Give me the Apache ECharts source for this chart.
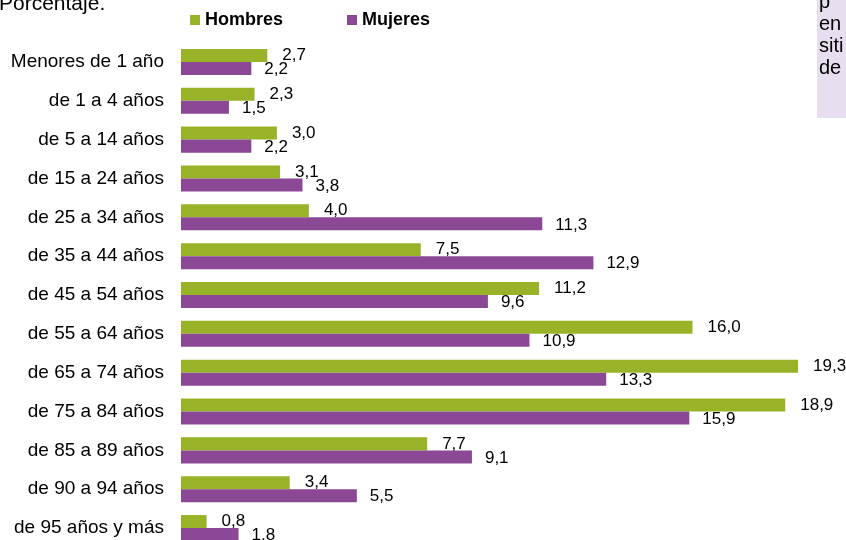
<!DOCTYPE html>
<html>
<head>
<meta charset="utf-8">
<script src="https://cdn.jsdelivr.net/npm/echarts@6/dist/echarts.min.js"></script>
<style>html,body{margin:0;padding:0;background:#fff;overflow:hidden}#c{width:846px;height:570px}</style>
</head>
<body>
<div id="c"></div>
<script>
var categories = ['Menores de 1 año','de 1 a 4 años','de 5 a 14 años','de 15 a 24 años','de 25 a 34 años','de 35 a 44 años','de 45 a 54 años','de 55 a 64 años','de 65 a 74 años','de 75 a 84 años','de 85 a 89 años','de 90 a 94 años','de 95 años y más'];
var hombres = [2.7, 2.3, 3.0, 3.1, 4.0, 7.5, 11.2, 16.0, 19.3, 18.9, 7.7, 3.4, 0.8];
var mujeres = [2.2, 1.5, 2.2, 3.8, 11.3, 12.9, 9.6, 10.9, 13.3, 15.9, 9.1, 5.5, 1.8];
var sideNote = ['p', 'en', 'siti', 'de'];

var FF = "'Liberation Sans', Arial, Helvetica, sans-serif";
var fmt = function (p) { return p.value.toFixed(1).replace('.', ','); };
var chart = echarts.init(document.getElementById('c'));
chart.setOption({
  animation: false,
  textStyle: { fontFamily: FF },
  legend: {
    top: 11, left: 190, itemGap: 64, itemWidth: 10, itemHeight: 10, padding: 0,
    icon: 'rect',
    textStyle: { fontSize: 18, fontWeight: 'bold', color: '#000', fontFamily: FF },
    data: ['Hombres', 'Mujeres']
  },
  grid: { left: 181, top: 42.5, width: 639.4, height: 505, containLabel: false },
  xAxis: { type: 'value', min: 0, max: 20, show: false },
  yAxis: {
    type: 'category', data: categories, inverse: true,
    axisLine: { show: false }, axisTick: { show: false },
    axisLabel: { margin: 17, fontSize: 19, color: '#000', fontFamily: FF, padding: [2, 0, 0, 0] }
  },
  series: [
    {
      name: 'Hombres', type: 'bar', data: hombres, barGap: '0%', barCategoryGap: '33%',
      itemStyle: { color: '#99b328' },
      label: { show: true, position: 'right', distance: 15, offset: [0, 0], formatter: fmt, fontSize: 17, color: '#000', fontFamily: FF }
    },
    {
      name: 'Mujeres', type: 'bar', data: mujeres,
      itemStyle: { color: '#8b4995' },
      label: { show: true, position: 'right', distance: 13, offset: [0, 1], formatter: fmt, fontSize: 17, color: '#000', fontFamily: FF }
    }
  ],
  graphic: [
    { type: 'text', left: -1, top: -6, style: { text: 'Porcentaje.', fontSize: 21, fill: '#000', fontFamily: FF } },
    { type: 'rect', shape: { x: 817, y: 0, width: 30, height: 118 }, style: { fill: '#e7deef' } },
    { type: 'text', left: 819, top: -9, style: { text: sideNote.join('\n'), fontSize: 20, lineHeight: 22, fill: '#000', fontFamily: FF } }
  ]
});
</script>
</body>
</html>
